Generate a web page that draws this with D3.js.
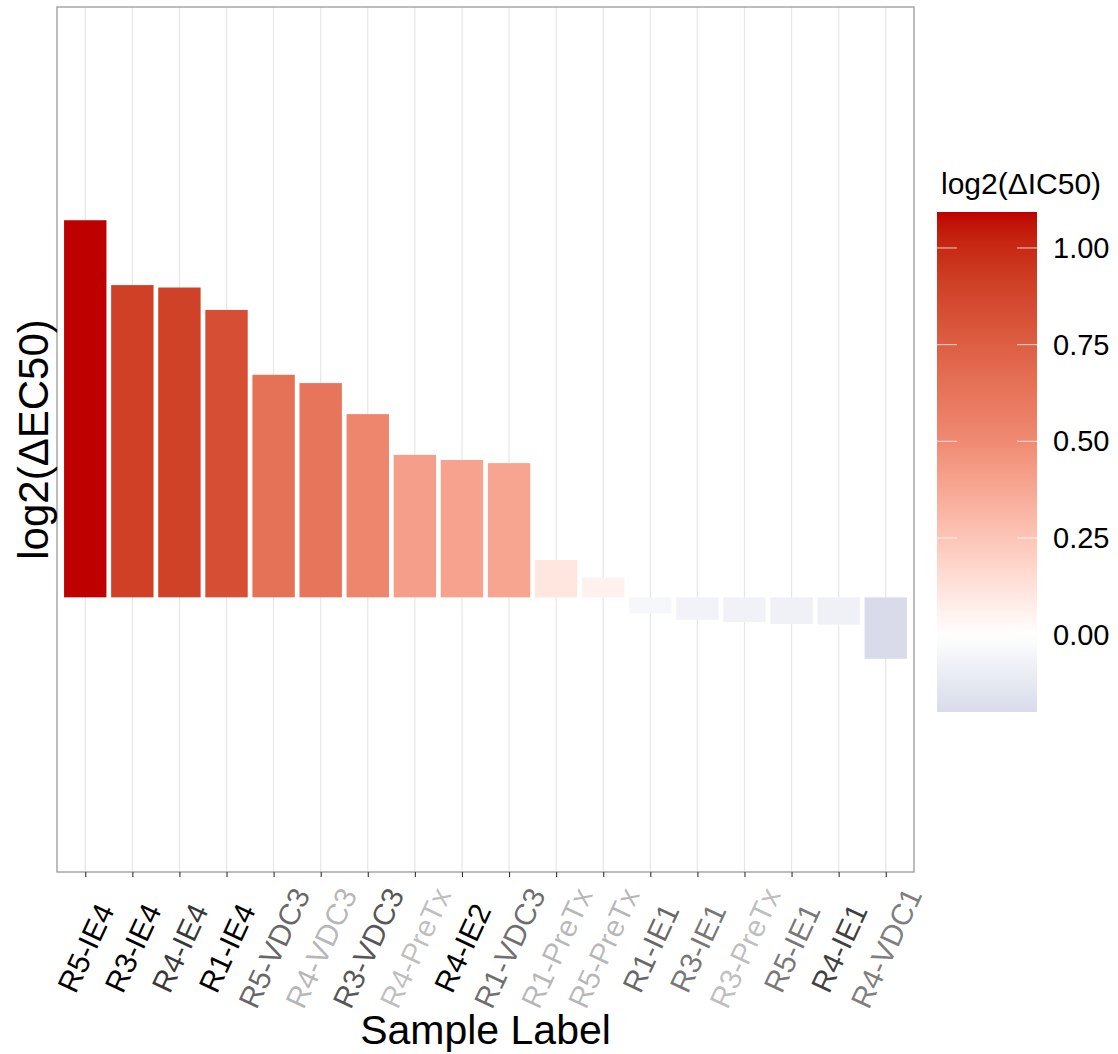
<!DOCTYPE html>
<html>
<head>
<meta charset="utf-8">
<script src="https://cdn.jsdelivr.net/npm/d3@7"></script>
<style>
  html, body { margin: 0; padding: 0; background: #fff; }
  svg { display: block; font-family: "Liberation Sans", Arial, Helvetica, sans-serif; }
</style>
</head>
<body>
<svg id="chart" width="1118" height="1054"></svg>
<script>
// Samples, ordered by decreasing log2(ΔEC50)
const samples = ["R5-IE4", "R3-IE4", "R4-IE4", "R1-IE4", "R5-VDC3", "R4-VDC3", "R3-VDC3",
  "R4-PreTx", "R4-IE2", "R1-VDC3", "R1-PreTx", "R5-PreTx", "R1-IE1", "R3-IE1",
  "R3-PreTx", "R5-IE1", "R4-IE1", "R4-VDC1"];

// Bar heights: log2(ΔEC50)
const log2EC50 = [1.093, 0.905, 0.898, 0.833, 0.645, 0.621, 0.531, 0.413, 0.398, 0.389,
  0.108, 0.057, -0.046, -0.065, -0.072, -0.077, -0.079, -0.178];

// Bar fill: log2(ΔIC50)
const log2IC50 = [1.093, 0.905, 0.898, 0.833, 0.645, 0.621, 0.531, 0.413, 0.398, 0.389,
  0.108, 0.057, -0.046, -0.065, -0.072, -0.077, -0.079, -0.200];

// Per-sample label weight (opacity of the tick label text)
const labelWeight = [1.0, 1.0, 0.78, 1.0, 0.6, 0.3, 0.68, 0.26, 1.0, 0.58,
  0.28, 0.28, 0.6, 0.54, 0.27, 0.54, 0.76, 0.52];

// Colour bar breaks
const legendTicks = [0, 0.25, 0.5, 0.75, 1.0];

// Y-axis limits of the panel
const yLimits = [-0.796, 1.711];

const svg = d3.select("#chart");

const panel = { left: 57, right: 914, top: 7, bottom: 872 };

const x = d3.scalePoint()
  .domain(samples)
  .range([panel.left, panel.right])
  .padding(0.6);
const barW = x.step() * 0.9;

const y = d3.scaleLinear()
  .domain(yLimits)
  .range([panel.bottom, panel.top]);

// Diverging fill around 0: blue-grey below, white at 0, salmon to deep red above
const fillMax = d3.max(log2IC50.map(Math.abs));
const fill = d3.scaleLinear()
  .domain([-fillMax, 0, fillMax * 0.457, fillMax])
  .range(["#2a4c8e", "#ffffff", "#f08a73", "#be0000"])
  .interpolate(d3.interpolateLab);

// Vertical grid lines
svg.append("g")
  .selectAll("line")
  .data(samples)
  .join("line")
  .attr("x1", d => x(d)).attr("x2", d => x(d))
  .attr("y1", panel.top).attr("y2", panel.bottom)
  .attr("stroke", "#e6e6e6")
  .attr("stroke-width", 1.2);

// Bars
const rows = samples.map((s, i) => ({ s, v: log2EC50[i], f: log2IC50[i] }));
svg.append("g")
  .selectAll("rect")
  .data(rows)
  .join("rect")
  .attr("x", d => x(d.s) - barW / 2)
  .attr("width", barW)
  .attr("y", d => y(Math.max(0, d.v)))
  .attr("height", d => Math.abs(y(d.v) - y(0)))
  .attr("fill", d => fill(d.f));

// Panel border
svg.append("rect")
  .attr("x", panel.left).attr("y", panel.top)
  .attr("width", panel.right - panel.left)
  .attr("height", panel.bottom - panel.top)
  .attr("fill", "none")
  .attr("stroke", "#9a9a9a")
  .attr("stroke-width", 1.3);

// X axis: ticks and rotated labels centred under each tick
const xAxis = d3.axisBottom(x).tickSize(5).tickPadding(0);
const gx = svg.append("g")
  .attr("transform", `translate(0,${panel.bottom})`)
  .call(xAxis);
gx.select(".domain").remove();
gx.selectAll(".tick line").attr("stroke", "#333").attr("stroke-width", 1.1);
gx.selectAll(".tick text")
  .attr("font-size", 30)
  .attr("fill", "#000")
  .attr("fill-opacity", (d, i) => labelWeight[i])
  .attr("text-anchor", "middle")
  .attr("dy", null)
  .attr("y", 0)
  .attr("dominant-baseline", "central")
  .attr("transform", "translate(0,76) rotate(-65)");

// Axis titles
svg.append("text")
  .attr("x", (panel.left + panel.right) / 2)
  .attr("y", 1044)
  .attr("text-anchor", "middle")
  .attr("font-size", 41)
  .attr("fill", "#000")
  .text("Sample Label");

svg.append("text")
  .attr("transform", `translate(48,${(panel.top + panel.bottom) / 2}) rotate(-90)`)
  .attr("text-anchor", "middle")
  .attr("font-size", 42)
  .attr("fill", "#000")
  .text("log2(ΔEC50)");

// Colour bar legend
const lg = { x: 937, w: 100, top: 212, bottom: 712 };
const fillExtent = d3.extent(log2IC50);
const ly = d3.scaleLinear().domain(fillExtent).range([lg.bottom, lg.top]);

const defs = svg.append("defs");
const grad = defs.append("linearGradient")
  .attr("id", "ic50grad")
  .attr("x1", 0).attr("y1", 1).attr("x2", 0).attr("y2", 0);
d3.range(0, 1.0001, 0.02).forEach(t => {
  const v = fillExtent[0] + t * (fillExtent[1] - fillExtent[0]);
  grad.append("stop").attr("offset", t).attr("stop-color", fill(v));
});

svg.append("rect")
  .attr("x", lg.x).attr("y", lg.top)
  .attr("width", lg.w).attr("height", lg.bottom - lg.top)
  .attr("fill", "url(#ic50grad)");

const lgTicks = svg.append("g");
legendTicks.forEach(t => {
  [[lg.x, lg.x + lg.w / 5], [lg.x + lg.w * 4 / 5, lg.x + lg.w]].forEach(([a, b]) => {
    lgTicks.append("line")
      .attr("x1", a).attr("x2", b)
      .attr("y1", ly(t)).attr("y2", ly(t))
      .attr("stroke", "#fff").attr("stroke-opacity", 0.7)
      .attr("stroke-width", 1.1);
  });
  svg.append("text")
    .attr("x", lg.x + lg.w + 16)
    .attr("y", ly(t))
    .attr("dominant-baseline", "central")
    .attr("font-size", 29)
    .attr("fill", "#000")
    .text(d3.format(".2f")(t));
});

svg.append("text")
  .attr("x", 941)
  .attr("y", 194)
  .attr("font-size", 30)
  .attr("fill", "#000")
  .text("log2(ΔIC50)");
</script>
</body>
</html>
